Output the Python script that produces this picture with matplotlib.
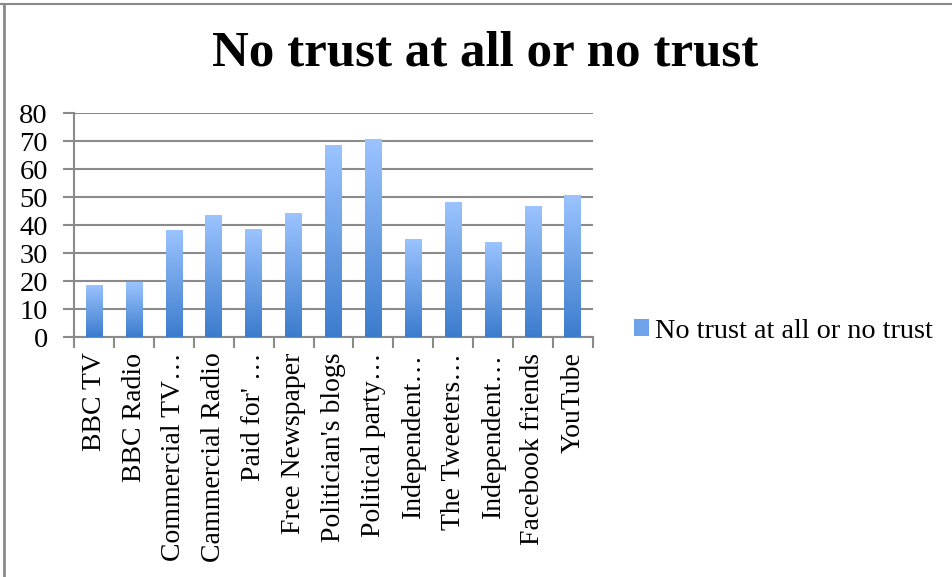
import numpy as np
import matplotlib
matplotlib.use("Agg")
import matplotlib.pyplot as plt
from matplotlib.colors import LinearSegmentedColormap
from matplotlib.lines import Line2D
from matplotlib.patches import Patch

categories = ["BBC TV", "BBC Radio", "Commercial TV…", "Cammercial Radio", "Paid for' …",
              "Free Newspaper", "Politician's blogs", "Political party…", "Independent…",
              "The Tweeters…", "Independent…", "Facebook friends", "YouTube"]
values = [18.7, 19.6, 38.3, 43.7, 38.7, 44.4, 68.7, 70.8, 35.1, 48.3, 34.0, 46.9, 50.8]
series_name = "No trust at all or no trust"
title = "No trust at all or no trust"
yticks = [0, 10, 20, 30, 40, 50, 60, 70, 80]

serif = ["Liberation Serif", "DejaVu Serif"]
plt.rcParams['font.family'] = serif

W, H = 953, 577
fig = plt.figure(figsize=(W / 100, H / 100), dpi=100)
ax = fig.add_axes([74.3 / W, 1 - 337.3 / H, (592.7 - 74.3) / W, (337.3 - 113.3) / H])

x = np.arange(len(categories))
bars = ax.bar(x, values, width=0.42, color="none", edgecolor="none", zorder=3)

cmap = LinearSegmentedColormap.from_list("g", ["#3c7ccd", "#9cc4ff"])
grad = np.linspace(0, 1, 256).reshape(-1, 1)
for b in bars:
    x0, y0, w, h = b.get_x(), b.get_y(), b.get_width(), b.get_height()
    im = ax.imshow(grad, cmap=cmap, origin="lower", aspect="auto",
                   extent=[x0, x0 + w, y0, y0 + h], zorder=3)
    im.set_clip_path(b)

ax.set_xlim(-0.5, len(categories) - 0.5)
ax.set_ylim(0, 80)
ax.set_yticks(yticks)
ax.set_yticklabels([str(t) for t in yticks], fontsize=20.5)
ax.yaxis.grid(True, color="#8a8a8a", linewidth=1.5, zorder=0)
ax.set_axisbelow(True)
ax.tick_params(axis="y", length=8, width=1.5, color="#8a8a8a", pad=11)

ax.set_xticks(x)
ax.set_xticklabels(categories, rotation=90, fontsize=20, va="top", ha="center")
ax.tick_params(axis="x", which="major", length=0, pad=11)
ax.set_xticks(np.arange(-0.5, len(categories)), minor=True)
ax.tick_params(axis="x", which="minor", length=8, width=1.5, color="#8a8a8a")

for s in ["top", "right"]:
    ax.spines[s].set_visible(False)
for s in ["left", "bottom"]:
    ax.spines[s].set_color("#8a8a8a")
    ax.spines[s].set_linewidth(1.5)

fig.text(485 / W, 1 - 53 / H, title, ha="center", va="center",
         fontsize=36.7, fontweight="bold")

handle = Patch(facecolor="#6ea2ea", edgecolor="none")
leg = fig.legend([handle], [series_name], loc="center left",
                 bbox_to_anchor=(634 / W, 1 - 331 / H), frameon=False,
                 borderpad=0, borderaxespad=0,
                 fontsize=20.3, handlelength=0.53, handleheight=0.53, handletextpad=0.22)

fig.add_artist(Line2D([0, 1], [1 - 3.5 / H, 1 - 3.5 / H], transform=fig.transFigure,
                      color="#8a8a8a", linewidth=1.5))
fig.add_artist(Line2D([4 / W, 4 / W], [0, 1 - 3.5 / H], transform=fig.transFigure,
                      color="#8a8a8a", linewidth=2))

fig.savefig("out.png", dpi=100)
